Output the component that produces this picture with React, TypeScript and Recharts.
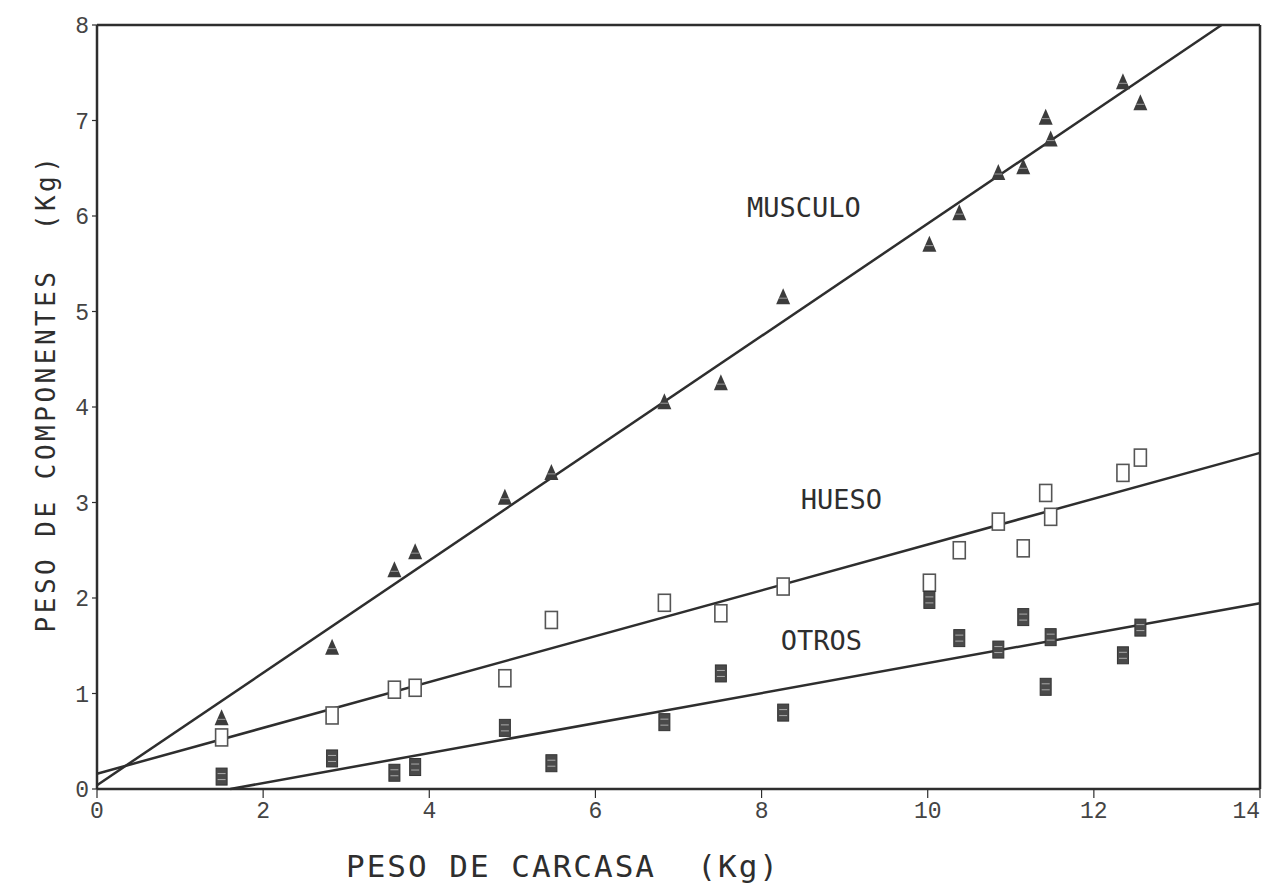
import { ScatterChart, Scatter, XAxis, YAxis, ReferenceLine, ReferenceDot, Label } from 'recharts'

// carcass weight of each animal (kg)
const carcasa = [1.5, 2.83, 3.58, 3.83, 4.91, 5.47, 6.83, 7.51, 8.26, 10.02, 10.38, 10.85, 11.15, 11.42, 11.48, 12.35, 12.56]
const musculo = [0.74, 1.48, 2.29, 2.48, 3.05, 3.31, 4.05, 4.25, 5.15, 5.7, 6.03, 6.45, 6.51, 7.03, 6.8, 7.4, 7.18]
const hueso = [0.54, 0.77, 1.04, 1.06, 1.16, 1.77, 1.95, 1.84, 2.12, 2.16, 2.5, 2.8, 2.52, 3.1, 2.85, 3.31, 3.47]
const otros = [0.13, 0.32, 0.17, 0.23, 0.64, 0.27, 0.7, 1.21, 0.8, 1.98, 1.58, 1.46, 1.8, 1.07, 1.59, 1.4, 1.69]

// fitted lines: y = a + b x
const lineNames = ['MUSCULO', 'HUESO', 'OTROS']
const intercepts = [0.04, 0.16, -0.252]
const slopes = [0.588, 0.24, 0.157]
// label anchors in data units
const labelX = [8.51, 8.96, 8.72]
const labelY = [6.09, 3.03, 1.56]

const xTicks = [0, 2, 4, 6, 8, 10, 12, 14]
const yTicks = [0, 1, 2, 3, 4, 5, 6, 7, 8]

const INK = '#2e2e2e'
const TITLE_FONT = '"DejaVu Sans Mono", monospace'
const TICK_FONT = '"Liberation Mono", monospace'
const NB = '\u00a0'

const toPoints = (ys: number[]) => ys.map((y, i) => ({ x: carcasa[i], y }))

function segmentFor(i: number) {
  const a = intercepts[i]
  const b = slopes[i]
  const x0 = Math.max(0, -a / b)
  const x1 = Math.min(14, (8 - a) / b)
  return [
    { x: x0, y: a + b * x0 },
    { x: x1, y: a + b * x1 },
  ]
}

const Triangle = (props: any) => {
  const { cx, cy } = props
  return (
    <g>
      <polygon points={`${cx},${cy - 9} ${cx - 7},${cy + 7} ${cx + 7},${cy + 7}`} fill="#3c3c3c" />
      <line x1={cx - 4} y1={cy + 1} x2={cx + 4} y2={cy + 1} stroke="#9a9a9a" strokeWidth={1} />
    </g>
  )
}

const OpenBox = (props: any) => {
  const { cx, cy } = props
  return <rect x={cx - 6} y={cy - 8.5} width={12} height={17} fill="#fff" stroke="#555" strokeWidth={1.6} />
}

const FilledBox = (props: any) => {
  const { cx, cy } = props
  return (
    <g>
      <rect x={cx - 5.5} y={cy - 8.5} width={11} height={17} fill="#4a4a4a" stroke="#333" strokeWidth={1} />
      <line x1={cx - 4} y1={cy - 3} x2={cx + 4} y2={cy - 3} stroke="#aaa" strokeWidth={1} />
      <line x1={cx - 4} y1={cy + 3} x2={cx + 4} y2={cy + 3} stroke="#aaa" strokeWidth={1} />
    </g>
  )
}

const XTick = (props: any) => {
  const { x, y, payload } = props
  const last = payload.value === xTicks[xTicks.length - 1]
  return (
    <text
      x={last ? x + 3 : x}
      y={y}
      dy="0.75em"
      textAnchor={last ? 'end' : 'middle'}
      fontFamily={TICK_FONT}
      fontSize={23}
      fill="#444"
    >
      {payload.value}
    </text>
  )
}

export default function App() {
  return (
    <div style={{ position: 'absolute', left: 0, top: 0, background: '#fff' }}>
      <ScatterChart width={1265} height={896} margin={{ top: 25, right: 5, bottom: 0, left: 0 }}>
        <XAxis
          type="number"
          dataKey="x"
          domain={[0, 14]}
          ticks={xTicks}
          height={107}
          axisLine={{ stroke: INK, strokeWidth: 2.5 }}
          tickLine={{ stroke: INK, strokeWidth: 1.2 }}
          tickSize={9}
          tickMargin={3}
          tick={<XTick />}
          allowDataOverflow
        >
          <Label
            content={() => (
              <text x={563} y={877} textAnchor="middle" fontFamily={TITLE_FONT} fontSize={31} letterSpacing={2} fill={INK}>
                {`PESO DE CARCASA${NB}${NB}(Kg)`}
              </text>
            )}
          />
        </XAxis>
        <YAxis
          type="number"
          dataKey="y"
          domain={[0, 8]}
          ticks={yTicks}
          width={97}
          axisLine={{ stroke: INK, strokeWidth: 2.5 }}
          tickLine={{ stroke: INK, strokeWidth: 1.2 }}
          tickSize={5}
          tickMargin={3}
          tick={{ fontFamily: TICK_FONT, fontSize: 23, fill: '#444' }}
          allowDataOverflow
        >
          <Label
            content={() => (
              <text
                x={46}
                y={393}
                transform="rotate(-90 46 393)"
                textAnchor="middle"
                dominantBaseline="central"
                fontFamily={TITLE_FONT}
                fontSize={26}
                letterSpacing={3.5}
                fill={INK}
              >
                {`PESO DE COMPONENTES${NB}${NB}(Kg)`}
              </text>
            )}
          />
        </YAxis>

        <ReferenceLine y={8} stroke={INK} strokeWidth={2.5} ifOverflow="visible" />
        <ReferenceLine x={14} stroke={INK} strokeWidth={2.5} ifOverflow="visible" />

        {lineNames.map((name, i) => (
          <ReferenceLine key={name} segment={segmentFor(i)} stroke={INK} strokeWidth={2.5} ifOverflow="visible" />
        ))}

        <Scatter name="MUSCULO" data={toPoints(musculo)} shape={Triangle} isAnimationActive={false} />
        <Scatter name="HUESO" data={toPoints(hueso)} shape={OpenBox} isAnimationActive={false} />
        <Scatter name="OTROS" data={toPoints(otros)} shape={FilledBox} isAnimationActive={false} />

        {lineNames.map((name, i) => (
          <ReferenceDot
            key={'lbl' + name}
            x={labelX[i]}
            y={labelY[i]}
            ifOverflow="visible"
            shape={(p: any) => (
              <text
                x={p.cx}
                y={p.cy}
                textAnchor="middle"
                dominantBaseline="central"
                fontFamily={TITLE_FONT}
                fontSize={27}
                fill={INK}
              >
                {name}
              </text>
            )}
          />
        ))}
      </ScatterChart>
    </div>
  )
}
